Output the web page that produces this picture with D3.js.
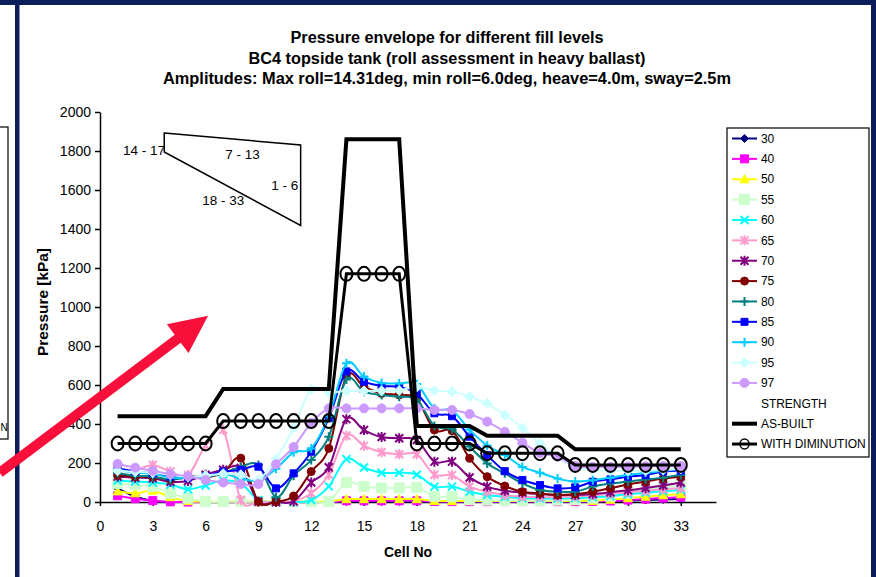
<!DOCTYPE html>
<html>
<head>
<meta charset="utf-8">
<script src="https://cdn.jsdelivr.net/npm/d3@7"></script>
<style>
  html, body { margin: 0; padding: 0; background: #fff; }
  svg { display: block; font-family: Arial, "Liberation Sans", sans-serif; }
</style>
</head>
<body>
<div id="chart"></div>
<script>
// chart values
const cells = [1,2,3,4,5,6,7,8,9,10,11,12,13,14,15,16,17,18,19,20,21,22,23,24,25,26,27,28,29,30,31,32,33];
const xTicks = [0,3,6,9,12,15,18,21,24,27,30,33];
const yTicks = [0,200,400,600,800,1000,1200,1400,1600,1800,2000];

const fill30 = [70,28,5,0,0,0,0,0,0,0,0,0,0,3,3,3,3,3,2,1,1,1,1,1,1,1,1,2,4,7,10,13,16];
const fill40 = [32,17,7,1,0,0,0,0,0,0,0,0,0,6,6,6,6,6,3,2,2,2,2,2,2,2,2,3,5,10,15,20,25];
const fill50 = [55,45,58,25,5,2,2,2,2,2,2,2,2,15,15,15,15,15,6,5,5,5,5,5,5,5,5,6,12,20,28,35,40];
const fill55 = [95,88,80,45,20,2,2,2,2,2,2,2,2,100,80,72,72,75,30,27,12,10,8,8,8,10,12,20,30,45,60,75,87];
const fill60 = [110,105,100,90,65,85,110,95,10,0,0,10,80,220,177,150,150,140,79,79,53,36,27,20,18,18,20,25,30,40,48,55,62];
const fill65 = [173,164,190,156,138,290,370,10,0,0,5,45,140,340,288,255,245,245,140,138,79,53,36,27,25,25,28,35,42,50,58,65,72];
const fill70 = [130,125,122,104,108,140,165,175,2,0,3,100,178,425,369,333,327,318,207,207,126,79,58,48,41,36,36,41,50,60,72,85,100];
const fill75 = [137,130,128,115,133,128,150,225,2,2,31,156,275,645,591,557,549,528,369,366,224,130,82,53,44,36,41,53,70,90,105,120,130];
const fill80 = [147,135,130,115,125,130,150,180,190,25,135,215,335,628,566,549,540,525,390,373,284,198,147,96,62,53,53,79,95,105,115,125,138];
const fill85 = [173,156,147,130,125,133,156,164,181,70,147,258,430,670,617,595,590,555,455,440,335,240,158,113,87,70,75,104,116,130,138,156,161];
const fill90 = [165,150,145,125,125,130,145,120,110,170,255,275,440,711,643,610,608,605,480,470,370,290,241,180,150,120,105,112,125,138,150,160,170];
const fill95 = [160,155,150,140,130,135,145,140,115,220,380,578,560,570,570,570,572,590,572,566,540,505,446,380,300,230,175,165,160,160,160,165,170];
const fill97 = [195,176,160,143,132,113,100,92,92,193,282,405,480,480,480,480,480,480,472,472,451,412,360,304,251,232,185,180,180,182,183,185,185];

const asBuilt = [440,440,440,440,440,440,580,580,580,580,580,580,580,1860,1860,1860,1860,390,390,390,390,340,340,340,340,340,270,270,270,270,270,270,270];
const withDiminution = [300,300,300,300,300,300,415,415,415,415,415,415,415,1170,1170,1170,1170,300,300,300,300,250,250,250,250,250,190,190,190,190,190,190,190];

const titleLines = [
    "Pressure envelope for different fill levels",
    "BC4 topside tank (roll assessment in heavy ballast)",
    "Amplitudes: Max roll=14.31deg, min roll=6.0deg, heave=4.0m, sway=2.5m"
];
const titleWidths = [313, 397, 568];

// cell-range sketch in the upper left, in cell / kPa units
const sketchCorners = [[3.65, 1892], [11.4, 1831], [11.4, 1418], [3.65, 1795]];
const sketchLabels = [
    { text: "14 - 17", cell: 3.7, kpa: 1805, anchor: "end" },
    { text: "7 - 13", cell: 8.1, kpa: 1782, anchor: "middle" },
    { text: "1 - 6", cell: 10.5, kpa: 1625, anchor: "middle" },
    { text: "18 - 33", cell: 7.0, kpa: 1545, anchor: "middle" }
];
const arrowFrom = { cell: -5.7, kpa: 150 };
const arrowTo = { cell: 6.14, kpa: 955 };

// series styles
const fillSeries = [
    { name: "30", values: fill30, color: "#000080", shape: "diamond", size: 4 },
    { name: "40", values: fill40, color: "#ff00ff", shape: "square", size: 4 },
    { name: "50", values: fill50, color: "#ffff00", shape: "triangle", size: 4.5 },
    { name: "55", values: fill55, color: "#ccffcc", shape: "square", size: 5 },
    { name: "60", values: fill60, color: "#00ffff", shape: "x", size: 4 },
    { name: "65", values: fill65, color: "#ff99cc", shape: "star", size: 4 },
    { name: "70", values: fill70, color: "#800080", shape: "star", size: 4 },
    { name: "75", values: fill75, color: "#800000", shape: "circle", size: 4 },
    { name: "80", values: fill80, color: "#008080", shape: "plus", size: 4.5 },
    { name: "85", values: fill85, color: "#0000ff", shape: "square", size: 3.5 },
    { name: "90", values: fill90, color: "#00ccff", shape: "plus", size: 4.5 },
    { name: "95", values: fill95, color: "#ccffff", shape: "diamond", size: 5 },
    { name: "97", values: fill97, color: "#cc99ff", shape: "circle", size: 4.5 }
];

const navy = "#0b1d5a";
const width = 876, height = 577;

function markerPath(shape, s) {
    switch (shape) {
        case "diamond": return `M0,${-s}L${s},0L0,${s}L${-s},0Z`;
        case "square": return `M${-s},${-s}H${s}V${s}H${-s}Z`;
        case "triangle": return `M0,${-s}L${s},${s * 0.8}L${-s},${s * 0.8}Z`;
        case "x": return `M${-s},${-s}L${s},${s}M${-s},${s}L${s},${-s}`;
        case "star": return `M${-s},${-s}L${s},${s}M${-s},${s}L${s},${-s}M0,${-s * 1.25}V${s * 1.25}`;
        case "plus": return `M${-s},0H${s}M0,${-s}V${s}`;
        case "circle": return `M${-s},0A${s},${s} 0 1,0 ${s},0A${s},${s} 0 1,0 ${-s},0Z`;
    }
}
const isStrokeMarker = shape => shape === "x" || shape === "star" || shape === "plus";

function drawMarker(sel, d) {
    sel.attr("d", markerPath(d.shape, d.size))
        .attr("fill", isStrokeMarker(d.shape) ? "none" : d.color)
        .attr("stroke", d.color)
        .attr("stroke-width", isStrokeMarker(d.shape) ? 2 : 1);
}

const svg = d3.select("#chart")
    .append("svg")
    .attr("width", width)
    .attr("height", height);

svg.append("rect").attr("width", width).attr("height", height).attr("fill", "#fff");

// slide frame bits
svg.append("rect").attr("x", -5).attr("y", 127).attr("width", 13).attr("height", 312)
    .attr("fill", "#fff").attr("stroke", "#000").attr("stroke-width", 1.2);
svg.append("text").attr("x", 0.5).attr("y", 431)
    .attr("font-size", 10).text("N");
svg.append("rect").attr("x", 0).attr("y", 0).attr("width", width).attr("height", 5).attr("fill", navy);
svg.append("rect").attr("x", 15).attr("y", 0).attr("width", 4.5).attr("height", height).attr("fill", navy);
svg.append("rect").attr("x", 871).attr("y", 0).attr("width", 5).attr("height", height).attr("fill", navy);

// title
svg.selectAll("text.title")
    .data(titleLines)
    .join("text")
    .attr("class", "title")
    .attr("x", 447)
    .attr("y", (d, i) => 43 + i * 20.5)
    .attr("text-anchor", "middle")
    .attr("font-size", 16)
    .attr("font-weight", "bold")
    .attr("textLength", (d, i) => titleWidths[i])
    .attr("lengthAdjust", "spacingAndGlyphs")
    .text(d => d);

// scales
const x = d3.scaleLinear().domain([0, 35]).range([100, 716]);
const y = d3.scaleLinear().domain([0, 2000]).range([502, 112]);

// axes
const yAxis = svg.append("g")
    .attr("transform", `translate(${x(0)},0)`)
    .call(d3.axisLeft(y).tickValues(yTicks).tickFormat(d3.format("d"))
        .tickSize(5).tickSizeOuter(0).tickPadding(4));
const xAxis = svg.append("g")
    .attr("transform", `translate(0,${y(0)})`)
    .call(d3.axisBottom(x).tickValues(xTicks).tickFormat(d3.format("d"))
        .tickSize(4).tickSizeOuter(0).tickPadding(15));
[xAxis, yAxis].forEach(g => {
    g.selectAll("path, line").attr("stroke", "#000").attr("stroke-width", 1.5);
    g.selectAll("text").attr("font-size", 14).attr("fill", "#000")
        .attr("font-family", "Arial, 'Liberation Sans', sans-serif");
});

svg.append("text")
    .attr("transform", `translate(48,302) rotate(-90)`)
    .attr("text-anchor", "middle")
    .attr("font-size", 15)
    .attr("font-weight", "bold")
    .attr("textLength", 108)
    .attr("lengthAdjust", "spacingAndGlyphs")
    .text("Pressure [kPa]");
svg.append("text")
    .attr("x", (x(0) + x(35)) / 2)
    .attr("y", 557)
    .attr("text-anchor", "middle")
    .attr("font-size", 14)
    .attr("font-weight", "bold")
    .text("Cell No");

// smoothed fill-level curves
const smooth = d3.line()
    .x((d, i) => x(cells[i]))
    .y(d => y(d))
    .curve(d3.curveCatmullRom.alpha(0));

fillSeries.forEach(s => {
    const g = svg.append("g");
    g.append("path")
        .attr("d", smooth(s.values))
        .attr("fill", "none")
        .attr("stroke", s.color)
        .attr("stroke-width", 2);
    g.selectAll("path.marker")
        .data(s.values)
        .join("path")
        .attr("class", "marker")
        .attr("transform", (d, i) => `translate(${x(cells[i])},${y(d)})`)
        .each(function () { drawMarker(d3.select(this), s); });
});

// strength envelopes
const straight = d3.line()
    .x((d, i) => x(cells[i]))
    .y(d => y(d));

svg.append("path")
    .attr("d", straight(asBuilt))
    .attr("fill", "none")
    .attr("stroke", "#000")
    .attr("stroke-width", 4)
    .attr("stroke-linejoin", "miter");
svg.append("path")
    .attr("d", straight(withDiminution))
    .attr("fill", "none")
    .attr("stroke", "#000")
    .attr("stroke-width", 3);
svg.selectAll("ellipse.dim")
    .data(withDiminution)
    .join("ellipse")
    .attr("class", "dim")
    .attr("cx", (d, i) => x(cells[i]))
    .attr("cy", d => y(d))
    .attr("rx", 6)
    .attr("ry", 7)
    .attr("fill", "none")
    .attr("stroke", "#000")
    .attr("stroke-width", 2);

// cell range sketch
svg.append("path")
    .attr("d", d3.line().x(d => x(d[0])).y(d => y(d[1]))(sketchCorners) + "Z")
    .attr("fill", "#fff")
    .attr("stroke", "#000")
    .attr("stroke-width", 1.5);
svg.selectAll("text.sketch")
    .data(sketchLabels)
    .join("text")
    .attr("class", "sketch")
    .attr("x", d => x(d.cell))
    .attr("y", d => y(d.kpa))
    .attr("dy", "0.35em")
    .attr("text-anchor", d => d.anchor)
    .attr("font-size", 13.5)
    .text(d => d.text);

// legend
const legendItems = fillSeries.map(s => ({ ...s, kind: "fill" })).concat([
    { name: "STRENGTH", kind: "none" },
    { name: "AS-BUILT", kind: "asbuilt" },
    { name: "WITH DIMINUTION", kind: "dim" }
]);
const legend = svg.append("g");
legend.append("rect")
    .attr("x", 727).attr("y", 128).attr("width", 142).attr("height", 329)
    .attr("fill", "#fff").attr("stroke", "#000").attr("stroke-width", 1.2);
const rowY = i => 138.5 + i * 20.37;
legendItems.forEach((d, i) => {
    const cy = rowY(i);
    if (d.kind === "fill") {
        legend.append("line").attr("x1", 732).attr("x2", 757).attr("y1", cy).attr("y2", cy)
            .attr("stroke", d.color).attr("stroke-width", 2);
        legend.append("path").attr("transform", `translate(744.5,${cy})`)
            .call(sel => drawMarker(sel, d));
    } else if (d.kind === "asbuilt") {
        legend.append("line").attr("x1", 732).attr("x2", 757).attr("y1", cy).attr("y2", cy)
            .attr("stroke", "#000").attr("stroke-width", 4);
    } else if (d.kind === "dim") {
        legend.append("line").attr("x1", 732).attr("x2", 757).attr("y1", cy).attr("y2", cy)
            .attr("stroke", "#000").attr("stroke-width", 3);
        legend.append("ellipse").attr("cx", 744.5).attr("cy", cy).attr("rx", 4.5).attr("ry", 5)
            .attr("fill", "none").attr("stroke", "#000").attr("stroke-width", 1.5);
    }
    legend.append("text")
        .attr("x", 761)
        .attr("y", cy)
        .attr("dy", "0.35em")
        .attr("font-size", 12)
        .attr("letter-spacing", -0.05)
        .text(d.name);
});

// red pointer arrow
const tail = [x(arrowFrom.cell), y(arrowFrom.kpa)];
const tip = [x(arrowTo.cell), y(arrowTo.kpa)];
const len = Math.hypot(tip[0] - tail[0], tip[1] - tail[1]);
const ux = (tip[0] - tail[0]) / len, uy = (tip[1] - tail[1]) / len;
const nx = -uy, ny = ux;
const headLen = 38, headHalf = 18, shaftHalf = 5;
const base = [tip[0] - headLen * ux, tip[1] - headLen * uy];
const arrowPts = [
    [tail[0] + shaftHalf * nx, tail[1] + shaftHalf * ny],
    [base[0] + shaftHalf * nx, base[1] + shaftHalf * ny],
    [base[0] + headHalf * nx, base[1] + headHalf * ny],
    tip,
    [base[0] - headHalf * nx, base[1] - headHalf * ny],
    [base[0] - shaftHalf * nx, base[1] - shaftHalf * ny],
    [tail[0] - shaftHalf * nx, tail[1] - shaftHalf * ny]
];
svg.append("path")
    .attr("d", d3.line()(arrowPts) + "Z")
    .attr("fill", "#f8103a");
</script>
</body>
</html>
